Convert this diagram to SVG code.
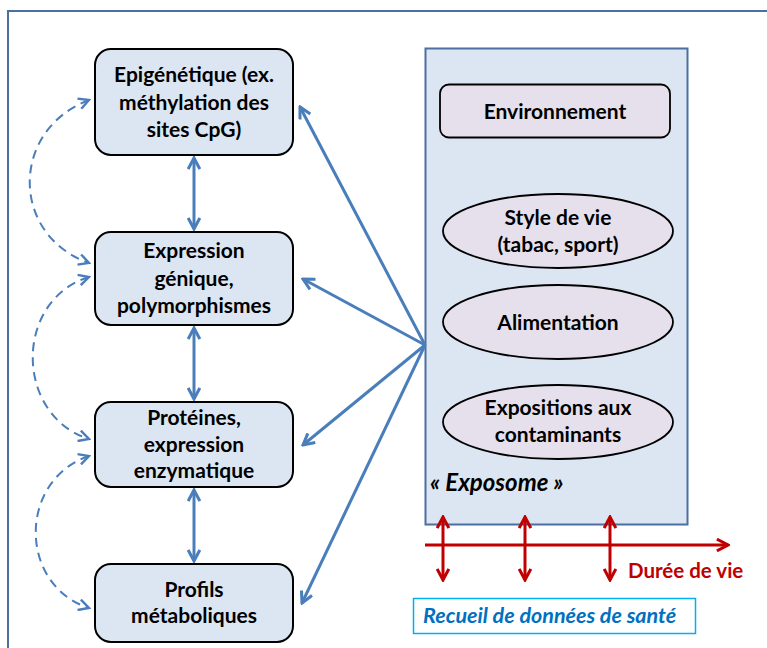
<svg xmlns="http://www.w3.org/2000/svg" width="767" height="648" viewBox="0 0 767 648">
<style>
.node{fill:#dce6f2;stroke:#000;stroke-width:2}
.ov{fill:#e6e0ec;stroke:#000;stroke-width:1.8}
.t{font-family:Lato,"Open Sans",sans-serif;font-weight:bold;font-size:21px;fill:#000;text-anchor:middle}
.ba{stroke:#4a7ebb;stroke-width:3;fill:none}
.da{stroke:#4a7ebb;stroke-width:2;fill:none;stroke-dasharray:9,6}
.ra{stroke:#c00000;stroke-width:3;fill:none}
</style>
<defs>
<marker id="ab" viewBox="0 0 12 12" refX="10.5" refY="6" markerWidth="14" markerHeight="14" markerUnits="userSpaceOnUse" orient="auto-start-reverse"><path d="M1,1 L10.5,6 L1,11" fill="none" stroke="#4a7ebb" stroke-width="2.6"/></marker>
<marker id="ad" viewBox="0 0 12 12" refX="10.5" refY="6" markerWidth="13" markerHeight="13" markerUnits="userSpaceOnUse" orient="auto-start-reverse"><path d="M1,1 L10.5,6 L1,11" fill="none" stroke="#4a7ebb" stroke-width="2.2"/></marker>
<marker id="ar" viewBox="0 0 12 12" refX="10.5" refY="6" markerWidth="14" markerHeight="14" markerUnits="userSpaceOnUse" orient="auto-start-reverse"><path d="M1,1 L10.5,6 L1,11" fill="none" stroke="#c00000" stroke-width="2.6"/></marker>
</defs>
<rect x="0" y="0" width="767" height="648" fill="#fff"/>
<rect x="8" y="11" width="800" height="700" fill="none" stroke="#4a6fa0" stroke-width="2"/>

<g id="exposome">
<rect x="425.5" y="48.5" width="262" height="476" fill="#dce6f2" stroke="#4a6fa0" stroke-width="2"/>
<text x="430" y="491" style="font-family:Lato,'Open Sans',sans-serif;font-weight:bold;font-style:italic;font-size:24px">« Exposome »</text>
</g>
<g id="environnement">
<rect x="440" y="84.5" width="230" height="53" rx="9" class="ov"/>
<text x="555" y="119" class="t">Environnement</text>
</g>
<g id="style">
<ellipse cx="558" cy="231" rx="115" ry="37" class="ov"/>
<text x="558" y="225" class="t">Style de vie</text>
<text x="558" y="252" class="t">(tabac, sport)</text>
</g>
<g id="alimentation">
<ellipse cx="558" cy="322" rx="115" ry="37" class="ov"/>
<text x="558" y="330" class="t">Alimentation</text>
</g>
<g id="expositions">
<ellipse cx="558" cy="422" rx="115" ry="37" class="ov"/>
<text x="558" y="415" class="t">Expositions aux</text>
<text x="558" y="442" class="t">contaminants</text>
</g>

<g id="n1">
<rect x="95" y="49" width="198" height="106" rx="16" class="node"/>
<text x="194" y="82" class="t">Epigénétique (ex.</text>
<text x="194" y="110" class="t">méthylation des</text>
<text x="194" y="137" class="t">sites CpG)</text>
</g>
<g id="n2">
<rect x="95" y="232" width="198" height="93" rx="16" class="node"/>
<text x="194" y="258" class="t">Expression</text>
<text x="194" y="286" class="t">génique,</text>
<text x="194" y="313" class="t">polymorphismes</text>
</g>
<g id="n3">
<rect x="95" y="402" width="198" height="85" rx="16" class="node"/>
<text x="194" y="425" class="t">Protéines,</text>
<text x="194" y="452" class="t">expression</text>
<text x="194" y="478" class="t">enzymatique</text>
</g>
<g id="n4">
<rect x="95" y="564" width="198" height="78" rx="16" class="node"/>
<text x="194" y="597" class="t">Profils</text>
<text x="194" y="623" class="t">métaboliques</text>
</g>

<g id="connectors">
<line x1="194" y1="158" x2="194" y2="229" class="ba" marker-start="url(#ab)" marker-end="url(#ab)"/>
<line x1="194" y1="328" x2="194" y2="399" class="ba" marker-start="url(#ab)" marker-end="url(#ab)"/>
<line x1="194" y1="490" x2="194" y2="561" class="ba" marker-start="url(#ab)" marker-end="url(#ab)"/>
<line x1="425" y1="345" x2="300" y2="107" class="ba" marker-end="url(#ab)"/>
<line x1="425" y1="345" x2="303" y2="279" class="ba" marker-end="url(#ab)"/>
<line x1="425" y1="345" x2="303" y2="445" class="ba" marker-end="url(#ab)"/>
<line x1="425" y1="345" x2="302" y2="603" class="ba" marker-end="url(#ab)"/>
<path d="M89,100 C10,130 10,235 89,263" class="da" marker-start="url(#ad)" marker-end="url(#ad)"/>
<path d="M89,277 C14,300 14,415 89,439" class="da" marker-start="url(#ad)" marker-end="url(#ad)"/>
<path d="M89,456 C18,480 18,585 89,608" class="da" marker-start="url(#ad)" marker-end="url(#ad)"/>
<line x1="425" y1="545" x2="728" y2="545" class="ra" marker-end="url(#ar)"/>
<line x1="443" y1="517" x2="443" y2="580" class="ra" marker-start="url(#ar)" marker-end="url(#ar)"/>
<line x1="525" y1="517" x2="525" y2="580" class="ra" marker-start="url(#ar)" marker-end="url(#ar)"/>
<line x1="610" y1="517" x2="610" y2="580" class="ra" marker-start="url(#ar)" marker-end="url(#ar)"/>
</g>

<g id="duree">
<text x="628" y="578" style="font-family:Lato,'Open Sans',sans-serif;font-weight:bold;font-size:20.5px;fill:#c00000">Durée de vie</text>
</g>
<g id="recueil">
<rect x="413.5" y="598.5" width="282" height="35" fill="#fff" stroke="#00b0f0" stroke-width="1.5"/>
<text x="423" y="623" style="font-family:Lato,'Open Sans',sans-serif;font-weight:bold;font-style:italic;font-size:21.5px;fill:#0070c0">Recueil de données de santé</text>
</g>
</svg>
